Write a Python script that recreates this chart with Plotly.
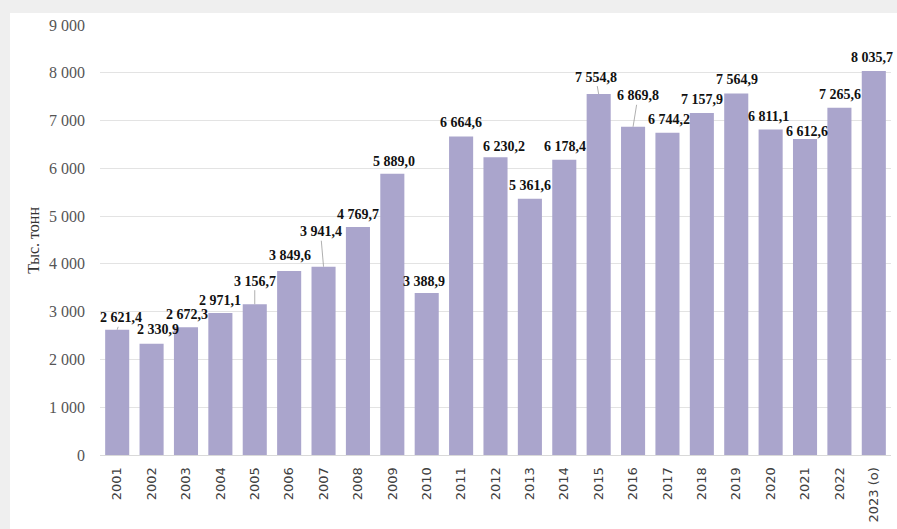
import plotly.graph_objects as go

years = ["2001", "2002", "2003", "2004", "2005", "2006", "2007", "2008", "2009", "2010",
         "2011", "2012", "2013", "2014", "2015", "2016", "2017", "2018", "2019", "2020",
         "2021", "2022", "2023 (о)"]
values = [2621.4, 2330.9, 2672.3, 2971.1, 3156.7, 3849.6, 3941.4, 4769.7, 5889.0, 3388.9,
          6664.6, 6230.2, 5361.6, 6178.4, 7554.8, 6869.8, 6744.2, 7157.9, 7564.9, 6811.1,
          6612.6, 7265.6, 8035.7]
y_ticks = [0, 1000, 2000, 3000, 4000, 5000, 6000, 7000, 8000, 9000]
y_title = "Тыс. тонн"


def fmt(v):
    s = f"{v:,.1f}".replace(",", " ").replace(".", ",")
    return s


# label placement (pixel offsets of label centre from bar top) and leader lines
label_offsets = {
    "2001": (4, -12, True), "2002": (6, -14, False), "2003": (1, -13, False),
    "2004": (0, -13, False), "2005": (0, -23, True), "2006": (1, -16, False),
    "2007": (-3, -35, True), "2008": (0, -13, False), "2009": (2, -12, False),
    "2010": (-3, -12, False), "2011": (0, -14, False), "2012": (8, -11, False),
    "2013": (0, -13, False), "2014": (1, -13, False), "2015": (-3, -17, True),
    "2016": (5, -31, True), "2017": (2, -13, False), "2018": (0, -14, False),
    "2019": (1, -14, False), "2020": (-2, -13, False), "2021": (2, -8, False),
    "2022": (1, -13, False), "2023 (о)": (-2, -14, False),
}

fig = go.Figure()
fig.add_trace(go.Bar(
    x=years, y=values,
    marker=dict(color="#aaa5cc", line=dict(width=0)),
    hoverinfo="x+y",
))

annotations = []
for i, (yr, v) in enumerate(zip(years, values)):
    dx, dy, leader = label_offsets[yr]
    annotations.append(dict(
        x=i, y=v, xref="x", yref="y",
        text=fmt(v), showarrow=True, ax=dx, ay=dy,
        arrowhead=0, arrowwidth=0.8,
        arrowcolor="#9a9a9a" if leader else "rgba(0,0,0,0)",
        standoff=0, startstandoff=0,
        font=dict(family="Liberation Serif", size=14, color="#111111", weight="bold"),
    ))
annotations.append(dict(
    x=-0.085, y=0.5, xref="paper", yref="paper", text=y_title, textangle=-90,
    showarrow=False, xanchor="center", yanchor="middle",
    font=dict(family="Liberation Serif", size=16, color="#333333"),
))

fig.update_layout(
    width=897, height=529,
    margin=dict(l=100, r=6, t=25, b=69),
    paper_bgcolor="white", plot_bgcolor="white",
    bargap=0.3, showlegend=False,
    annotations=annotations,
    shapes=[
        dict(type="rect", xref="paper", yref="paper", x0=-0.14, x1=1.02,
             y0=1.0277, y1=1.08, fillcolor="#efefef", line=dict(width=0), layer="above"),
        dict(type="rect", xref="paper", yref="paper", x0=-0.14, x1=-0.1138,
             y0=-0.2, y1=1.08, fillcolor="#efefef", line=dict(width=0), layer="above"),
    ],
    xaxis=dict(
        type="category", tickangle=-90, showgrid=False,
        range=[-0.5, len(years) - 0.5],
        tickfont=dict(family="DejaVu Sans", size=13, color="#404040"),
        showline=True, linecolor="#d9d9d9", linewidth=1,
        ticks="", ticklabelstandoff=6,
    ),
    yaxis=dict(
        range=[0, 9000], tickvals=y_ticks,
        ticktext=[f"{t:,}".replace(",", " ") for t in y_ticks],
        showgrid=True, gridcolor="#e3e3e3", gridwidth=1, zeroline=False,
        tickfont=dict(family="Liberation Serif", size=16, color="#555555"),
        ticks="", ticklabelstandoff=14,
    ),
)

fig.write_html(
    "out.html",
    config={"displayModeBar": False},
    post_script="document.body.style.margin='0';document.body.style.overflow='hidden';",
)
